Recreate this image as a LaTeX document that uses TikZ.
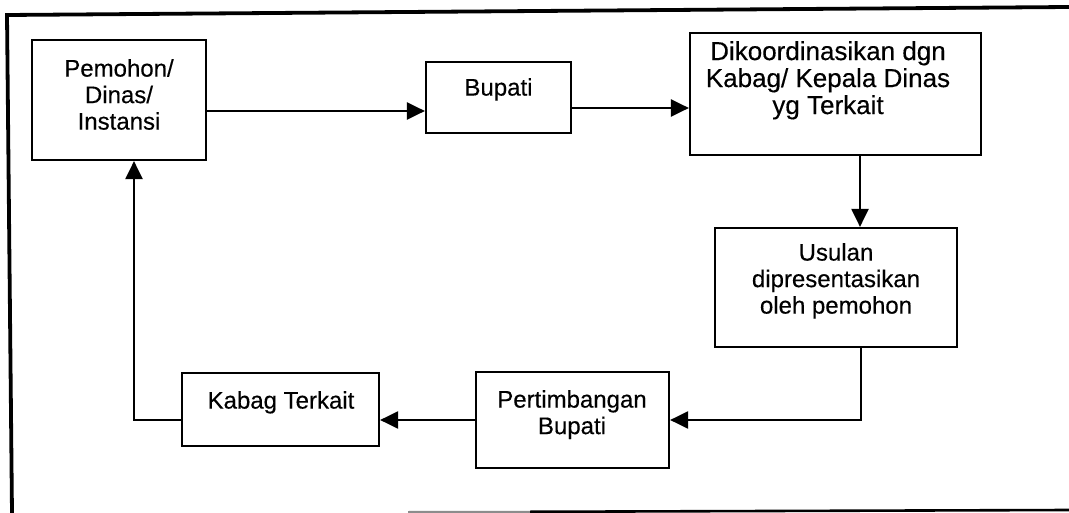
\documentclass[tikz,border=0pt]{standalone}
\usepackage{fontspec}
\setmainfont[FakeBold=0.35]{Liberation Sans}
\usetikzlibrary{arrows.meta}
\begin{document}
\begin{tikzpicture}[x=1pt,y=-1pt,
  box/.style={draw, line width=2.2pt, inner sep=0pt},
  txt/.style={font=\fontsize{24}{26.5}\selectfont, align=center, anchor=north, inner sep=0pt},
  bigtxt/.style={txt, font=\fontsize{26}{27}\selectfont},
  conn/.style={line width=2.2pt, -{Triangle[length=18pt,width=17pt]}}]
\useasboundingbox (0,0) rectangle (1069,513);
\fill[white] (0,0) rectangle (1069,513);
% outer frame
\draw[line width=3.8pt] (12,513) -- (7,15) -- (1069,7);
\draw[line width=2pt, black!45] (408,512) -- (530,511.8);
\draw[line width=2.6pt] (530,511.8) -- (1069,510);
% boxes
\node[box, minimum width=174pt, minimum height=120pt] (pem) at (119,100) {};
\node[box, minimum width=145pt, minimum height=71pt] (bup) at (498.5,97.5) {};
\node[box, minimum width=291pt, minimum height=122pt] (dik) at (835.5,94) {};
\node[box, minimum width=242pt, minimum height=119pt] (usu) at (836,287.5) {};
\node[box, minimum width=193pt, minimum height=96pt] (per) at (572.5,420) {};
\node[box, minimum width=197pt, minimum height=73pt] (kab) at (280.5,409.5) {};
% texts
\node[txt] (pemt) at (119,59) {Pemohon/\\Dinas/\\Instansi};
\node[txt] (bupt) at (498.5,78) {Bupati};
\node[bigtxt] (dikt) at (828,41) {Dikoordinasikan dgn\\Kabag/ Kepala Dinas\\yg Terkait};
\node[txt] (usut) at (836,243) {Usulan\\dipresentasikan\\oleh pemohon};
\node[txt] (pert) at (572,390) {Pertimbangan\\Bupati};
\node[txt] (kabt) at (281,391) {Kabag Terkait};
% helper coordinates
\coordinate (ya) at (0,111);
\coordinate (yb) at (0,108);
\coordinate (xa) at (860,0);
\coordinate (xb) at (861,0);
\coordinate (xc) at (134,0);
% connectors
\draw[conn] (pem.east |- ya) -- (bup.west |- ya);
\draw[conn] (bup.east |- yb) -- (dik.west |- yb);
\draw[conn] (dik.south -| xa) -- (usu.north -| xa);
\draw[conn] (usu.south -| xb) |- (per.east);
\draw[conn] (per.west) -- (kab.east |- per.west);
\draw[conn] (kab.west |- per.west) -| (pem.south -| xc);
\end{tikzpicture}
\end{document}
